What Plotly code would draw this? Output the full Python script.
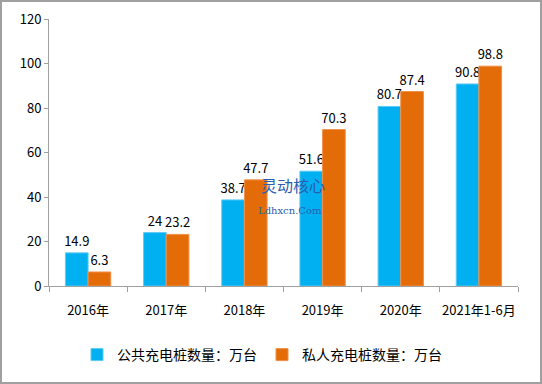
import plotly.graph_objects as go

categories = ["2016年", "2017年", "2018年", "2019年", "2020年", "2021年1-6月"]
public_piles = [14.9, 24, 38.7, 51.6, 80.7, 90.8]
private_piles = [6.3, 23.2, 47.7, 70.3, 87.4, 98.8]
public_name = "公共充电桩数量：万台"
private_name = "私人充电桩数量：万台"
y_ticks = [0, 20, 40, 60, 80, 100, 120]

FONT = "Noto Sans CJK SC, DejaVu Sans, sans-serif"

L, R, T, B = 49, 24, 19, 98
W, H = 542, 384
pw, ph = W - L - R, H - T - B

fig = go.Figure()
fig.add_trace(go.Bar(
    x=categories, y=public_piles, name=public_name,
    marker=dict(color="#00B0F0", line=dict(color="#5CCBF5", width=1)),
    text=[f"{v:g}" for v in public_piles], textposition="outside",
    constraintext="none",
    textfont=dict(size=13, color="black", family=FONT), cliponaxis=False,
))
fig.add_trace(go.Bar(
    x=categories, y=private_piles, name=private_name,
    marker=dict(color="#E36C09", line=dict(color="#F0904A", width=1)),
    text=[f"{v:g}" for v in private_piles], textposition="outside",
    constraintext="none",
    textfont=dict(size=13, color="black", family=FONT), cliponaxis=False,
))

def px_x(x):
    return (x - L) / pw

def px_y(y):
    return (H - B - y) / ph

fig.update_layout(
    width=W, height=H,
    margin=dict(l=L, r=R, t=T, b=B, autoexpand=False),
    paper_bgcolor="white", plot_bgcolor="white",
    barmode="group", bargap=0.42, bargroupgap=0,
    font=dict(family=FONT, size=13, color="black"),
    showlegend=True,
    legend=dict(orientation="h", x=px_x(262), xanchor="center",
                y=px_y(355), yanchor="middle",
                font=dict(size=14, family=FONT),
                itemwidth=30, tracegroupgap=0),
    xaxis=dict(showline=True, linecolor="#A0A0A0", linewidth=1,
               ticks="outside", ticklen=5, tickcolor="#A0A0A0",
               tickson="boundaries", showgrid=False, tickangle=0,
               automargin=False,
               tickfont=dict(size=13), ticklabelstandoff=12),
    yaxis=dict(range=[0, 120], tickvals=y_ticks, showline=True,
               linecolor="#A0A0A0", linewidth=1, ticks="outside",
               ticklen=4, tickcolor="#A0A0A0", showgrid=False,
               automargin=False,
               zeroline=False, tickfont=dict(size=13)),
    shapes=[dict(type="rect", xref="paper", yref="paper",
                 x0=px_x(1), x1=px_x(W - 1), y0=px_y(H - 1), y1=px_y(1),
                 line=dict(color="#A0A0A0", width=2))],
    annotations=[
        dict(text="灵动核心", xref="paper", yref="paper", x=px_x(293), y=px_y(199),
             showarrow=False, font=dict(size=16, color="#2A5DB0", family=FONT)),
        dict(text="Ldhxcn.Com", xref="paper", yref="paper", x=px_x(290), y=px_y(218),
             showarrow=False, font=dict(size=10, color="#2A5DB0", family="DejaVu Serif")),
    ],
)

fig.write_html("out.html", config={"displayModeBar": False},
               post_script="document.body.style.margin='0';document.body.style.overflow='hidden';")
